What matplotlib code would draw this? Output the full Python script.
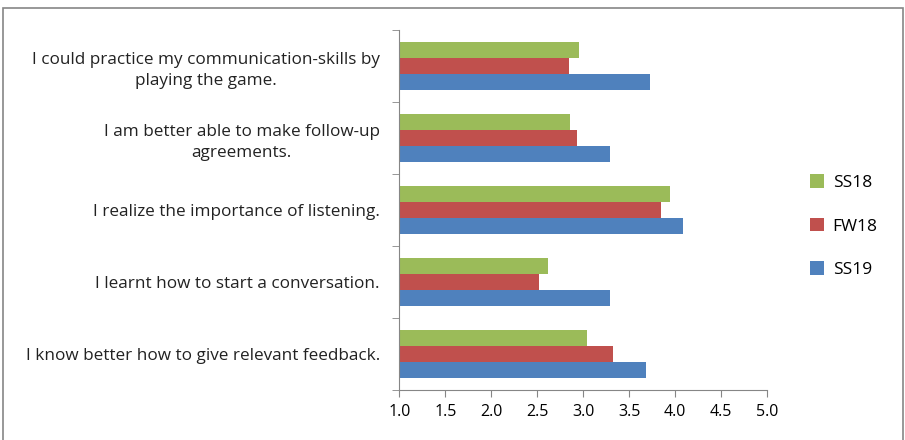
import matplotlib.pyplot as plt
import numpy as np
from matplotlib.patches import Rectangle

plt.rcParams['font.family'] = ['Open Sans', 'DejaVu Sans']

# statements, bottom to top
statements = ['I know better how to give relevant feedback.',
              'I learnt how to start a conversation.',
              'I realize the importance of listening.',
              'I am better able to make follow-up\nagreements.',
              'I could practice my communication-skills by\nplaying the game.']
ss19 = [3.68, 3.29, 4.08, 3.29, 3.72]
fw18 = [3.32, 2.52, 3.84, 2.93, 2.85]
ss18 = [3.04, 2.62, 3.94, 2.86, 2.95]

xticks = [1.0, 1.5, 2.0, 2.5, 3.0, 3.5, 4.0, 4.5, 5.0]

fig = plt.figure(figsize=(9.05, 4.4), dpi=100)
ax = fig.add_axes([0.4412, 0.1136, 0.4066, 0.8182])

y = np.arange(len(statements))
h = 0.222
ax.barh(y - h, np.array(ss19) - 1, h, left=1, color='#4f81bd', label='SS19')
ax.barh(y, np.array(fw18) - 1, h, left=1, color='#c0504d', label='FW18')
ax.barh(y + h, np.array(ss18) - 1, h, left=1, color='#9bbb59', label='SS18')

ax.set_xlim(1, 5)
ax.set_ylim(-0.5, len(statements) - 0.5)
ax.set_xticks(xticks)
ax.set_xticklabels(['%.1f' % v for v in xticks], fontsize=11.5)
ax.set_yticks(y)
ax.set_yticklabels(statements, fontsize=12.3, ha='right', multialignment='center',
                   linespacing=1.45, color='#222222')
ax.set_yticks(np.arange(-0.5, len(statements)), minor=True)
ax.tick_params(axis='y', which='major', length=0, pad=14)
ax.tick_params(axis='y', which='minor', length=5, color='#868686')
ax.tick_params(axis='x', length=5, color='#868686', pad=5)

for s in ['top', 'right']:
    ax.spines[s].set_visible(False)
for s in ['left', 'bottom']:
    ax.spines[s].set_color('#868686')

handles, labels = ax.get_legend_handles_labels()
ax.legend(handles[::-1], labels[::-1], loc='center left', bbox_to_anchor=(1.074, 0.455),
          frameon=False, fontsize=12.5, handlelength=0.8, handleheight=0.8,
          labelspacing=1.55, handletextpad=0.5)

fig.patches.append(Rectangle((3 / 905, -0.1), 900 / 905, 1 - 8 / 440 + 0.1,
                             transform=fig.transFigure, fill=False,
                             edgecolor='#868686', linewidth=1.2))

fig.savefig('out.png', dpi=100)
